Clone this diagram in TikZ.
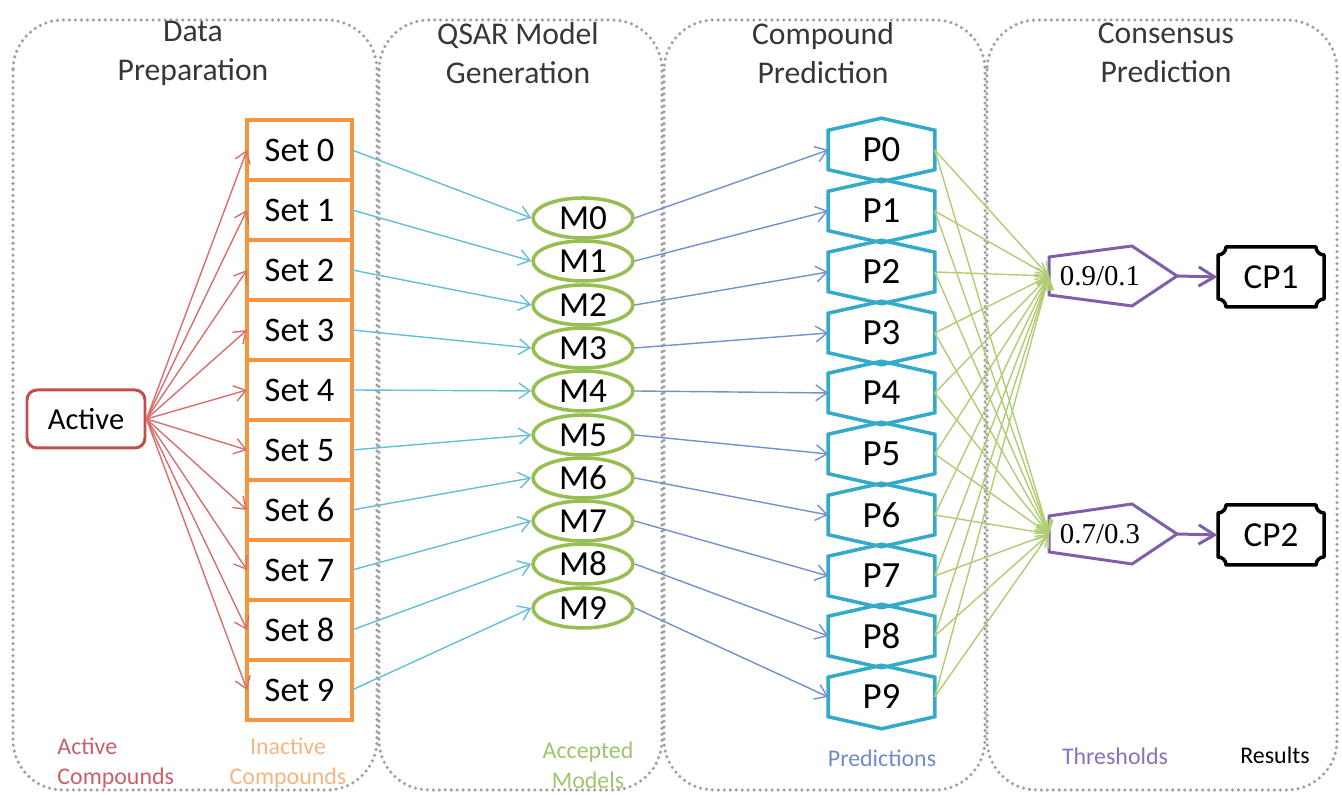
\documentclass[tikz,border=0pt]{standalone}
\usepackage{fontspec}
\setmainfont{Carlito}
\newfontfamily\threshfont{Liberation Serif}
\usepackage{tikz}
\usetikzlibrary{calc,positioning,shapes,arrows.meta}

\definecolor{panelgray}{RGB}{160,160,160}
\definecolor{headgray}{RGB}{55,55,55}
\definecolor{actred}{RGB}{192,80,77}
\definecolor{actline}{RGB}{214,112,112}
\definecolor{setorange}{RGB}{247,148,60}
\definecolor{setline}{RGB}{100,190,215}
\definecolor{modgreen}{RGB}{150,190,80}
\definecolor{modline}{RGB}{115,145,205}
\definecolor{predcyan}{RGB}{50,170,200}
\definecolor{predline}{RGB}{175,205,115}
\definecolor{thpurple}{RGB}{128,95,170}
\definecolor{actnote}{RGB}{200,95,105}
\definecolor{setnote}{RGB}{245,180,130}
\definecolor{modnote}{RGB}{160,195,110}
\definecolor{prednote}{RGB}{110,140,200}
\definecolor{thnote}{RGB}{140,110,190}

\tikzstyle{panel}  = [draw=panelgray, line width=1pt, dash pattern=on 0pt off 1.7pt, line cap=round, rounded corners=0.5cm]
\tikzstyle{header} = [align=center, text=headgray, font=\fontsize{9}{11.1}\selectfont]
\tikzstyle{note}   = [align=center, font=\fontsize{6.8}{8.5}\selectfont]
\tikzstyle{active} = [draw=actred, line width=0.85pt, rounded corners=0.1cm, minimum width=1.18cm, minimum height=0.58cm, font=\fontsize{8.7}{10}\selectfont]
\tikzstyle{setbox} = [draw=setorange, line width=1.15pt, minimum width=1.05cm, minimum height=0.6cm, outer sep=0pt, inner sep=0pt, font=\fontsize{9.8}{11}\selectfont]
\tikzstyle{model}  = [ellipse, draw=modgreen, line width=1pt, minimum width=1.0cm, minimum height=0.4cm, inner sep=0pt, font=\fontsize{10}{11}\selectfont]
\tikzstyle{pred}   = [minimum width=1.03cm, minimum height=0.6cm, inner sep=0pt, outer sep=0.5pt, font=\fontsize{10.5}{11}\selectfont]
\tikzstyle{predbox} = [draw=predcyan, line width=1pt, line join=miter]
\tikzstyle{thresh} = [draw=thpurple, line width=0.85pt, line join=miter]
\tikzstyle{result} = [minimum width=1.06cm, minimum height=0.6cm, inner sep=0pt, font=\fontsize{10}{11}\selectfont]
\tikzstyle{plaque} = [line width=1pt, line join=round]
\tikzstyle{arrow}  = [line width=0.4pt, ->, >={Straight Barb[length=3.2pt,width=4.5pt]}]
\tikzstyle{bigarrow} = [line width=0.85pt, ->, >={Straight Barb[length=4.5pt,width=5.5pt]}]

\begin{document}
\begin{tikzpicture}[]
		\useasboundingbox (0,0) rectangle (13.42,7.95);

		% panels
		\draw[panel] (0.13,7.75) rectangle (3.77,0.05);
		\draw[panel] (3.79,7.75) rectangle (6.62,0.05);
		\draw[panel] (6.64,7.75) rectangle (9.85,0.05);
		\draw[panel] (9.87,7.75) rectangle (13.37,0.05);

		\node[header] (h1) at (1.93,7.42) {Data\\Preparation};
		\node[header] (h2) at (5.18,7.42) {QSAR Model\\Generation};
		\node[header] (h3) at (8.23,7.42) {Compound\\Prediction};
		\node[header] (h4) at (11.66,7.42) {Consensus\\Prediction};

		% data preparation
		\node[active] (act) at (0.86,3.76) {Active};

		\node[setbox] (s0) at (2.995,6.45) {Set 0};
		\node[setbox, below=0pt of s0] (s1) {Set 1};
		\node[setbox, below=0pt of s1] (s2) {Set 2};
		\node[setbox, below=0pt of s2] (s3) {Set 3};
		\node[setbox, below=0pt of s3] (s4) {Set 4};
		\node[setbox, below=0pt of s4] (s5) {Set 5};
		\node[setbox, below=0pt of s5] (s6) {Set 6};
		\node[setbox, below=0pt of s6] (s7) {Set 7};
		\node[setbox, below=0pt of s7] (s8) {Set 8};
		\node[setbox, below=0pt of s8] (s9) {Set 9};

		% models
		\node[model] (m0) at (5.83,5.77) {M0};
		\node[model] (m1) at (5.83,5.34) {M1};
		\node[model] (m2) at (5.83,4.90) {M2};
		\node[model] (m3) at (5.83,4.47) {M3};
		\node[model] (m4) at (5.83,4.04) {M4};
		\node[model] (m5) at (5.83,3.60) {M5};
		\node[model] (m6) at (5.83,3.17) {M6};
		\node[model] (m7) at (5.83,2.74) {M7};
		\node[model] (m8) at (5.83,2.31) {M8};
		\node[model] (m9) at (5.83,1.87) {M9};

		% predictions
		\node[pred] (p0) at (8.815,6.45) {P0};
		\node[pred] (p1) at (8.815,5.84) {P1};
		\node[pred] (p2) at (8.815,5.23) {P2};
		\node[pred] (p3) at (8.815,4.62) {P3};
		\node[pred] (p4) at (8.815,4.02) {P4};
		\node[pred] (p5) at (8.815,3.41) {P5};
		\node[pred] (p6) at (8.815,2.80) {P6};
		\node[pred] (p7) at (8.815,2.19) {P7};
		\node[pred] (p8) at (8.815,1.59) {P8};
		\node[pred] (p9) at (8.815,0.98) {P9};
		\foreach \i in {0,...,9}
			\draw[predbox] (p\i.north) -- ([yshift=-0.12cm]p\i.north east) -- ([yshift=0.12cm]p\i.south east) -- (p\i.south) -- ([yshift=0.12cm]p\i.south west) -- ([yshift=-0.12cm]p\i.north west) -- cycle;

		% thresholds
		\draw[thresh] (10.49,5.38) -- (11.32,5.49) -- (11.77,5.19) -- (11.32,4.89) -- (10.49,5.00) -- cycle;
		\node[font=\threshfont\fontsize{8.2}{10}\selectfont] (t1) at (11.0,5.19) {0.9/0.1};
		\coordinate (t1in) at (10.49,5.19);
		\coordinate (t1out) at (11.77,5.19);

		\draw[thresh] (10.49,2.79) -- (11.32,2.91) -- (11.77,2.61) -- (11.32,2.31) -- (10.49,2.43) -- cycle;
		\node[font=\threshfont\fontsize{8.2}{10}\selectfont] (t2) at (11.0,2.61) {0.7/0.3};
		\coordinate (t2in) at (10.49,2.61);
		\coordinate (t2out) at (11.77,2.61);

		% results
		\node[result] (cp1) at (12.71,5.18) {CP1};
		\draw[plaque] (12.71,5.48) -- (13.16,5.48) arc[start angle=180,end angle=270,radius=0.08] -- (13.24,4.96) arc[start angle=90,end angle=180,radius=0.08] -- (12.26,4.88) arc[start angle=0,end angle=90,radius=0.08] -- (12.18,5.40) arc[start angle=270,end angle=360,radius=0.08] -- cycle;
		\node[result] (cp2) at (12.71,2.60) {CP2};
		\draw[plaque] (12.71,2.90) -- (13.16,2.90) arc[start angle=180,end angle=270,radius=0.08] -- (13.24,2.38) arc[start angle=90,end angle=180,radius=0.08] -- (12.26,2.30) arc[start angle=0,end angle=90,radius=0.08] -- (12.18,2.82) arc[start angle=270,end angle=360,radius=0.08] -- cycle;

		% active -> sets
		\draw[arrow, actline] (act.east) -- (s0.west);
		\draw[arrow, actline] (act.east) -- (s1.west);
		\draw[arrow, actline] (act.east) -- (s2.west);
		\draw[arrow, actline] (act.east) -- (s3.west);
		\draw[arrow, actline] (act.east) -- (s4.west);
		\draw[arrow, actline] (act.east) -- (s5.west);
		\draw[arrow, actline] (act.east) -- (s6.west);
		\draw[arrow, actline] (act.east) -- (s7.west);
		\draw[arrow, actline] (act.east) -- (s8.west);
		\draw[arrow, actline] (act.east) -- (s9.west);

		% sets -> models
		\draw[arrow, setline] (s0.east) -- (m0.west);
		\draw[arrow, setline] (s1.east) -- (m1.west);
		\draw[arrow, setline] (s2.east) -- (m2.west);
		\draw[arrow, setline] (s3.east) -- (m3.west);
		\draw[arrow, setline] (s4.east) -- (m4.west);
		\draw[arrow, setline] (s5.east) -- (m5.west);
		\draw[arrow, setline] (s6.east) -- (m6.west);
		\draw[arrow, setline] (s7.east) -- (m7.west);
		\draw[arrow, setline] (s8.east) -- (m8.west);
		\draw[arrow, setline] (s9.east) -- (m9.west);

		% models -> predictions
		\draw[arrow, modline] (m0.east) -- (p0.west);
		\draw[arrow, modline] (m1.east) -- (p1.west);
		\draw[arrow, modline] (m2.east) -- (p2.west);
		\draw[arrow, modline] (m3.east) -- (p3.west);
		\draw[arrow, modline] (m4.east) -- (p4.west);
		\draw[arrow, modline] (m5.east) -- (p5.west);
		\draw[arrow, modline] (m6.east) -- (p6.west);
		\draw[arrow, modline] (m7.east) -- (p7.west);
		\draw[arrow, modline] (m8.east) -- (p8.west);
		\draw[arrow, modline] (m9.east) -- (p9.west);

		% predictions -> thresholds
		\draw[arrow, predline] (p0.east) -- (t1in);
		\draw[arrow, predline] (p1.east) -- (t1in);
		\draw[arrow, predline] (p2.east) -- (t1in);
		\draw[arrow, predline] (p3.east) -- (t1in);
		\draw[arrow, predline] (p4.east) -- (t1in);
		\draw[arrow, predline] (p5.east) -- (t1in);
		\draw[arrow, predline] (p6.east) -- (t1in);
		\draw[arrow, predline] (p7.east) -- (t1in);
		\draw[arrow, predline] (p8.east) -- (t1in);
		\draw[arrow, predline] (p9.east) -- (t1in);
		\draw[arrow, predline] (p0.east) -- (t2in);
		\draw[arrow, predline] (p1.east) -- (t2in);
		\draw[arrow, predline] (p2.east) -- (t2in);
		\draw[arrow, predline] (p3.east) -- (t2in);
		\draw[arrow, predline] (p4.east) -- (t2in);
		\draw[arrow, predline] (p5.east) -- (t2in);
		\draw[arrow, predline] (p6.east) -- (t2in);
		\draw[arrow, predline] (p7.east) -- (t2in);
		\draw[arrow, predline] (p8.east) -- (t2in);
		\draw[arrow, predline] (p9.east) -- (t2in);

		% thresholds -> results
		\draw[bigarrow, thpurple] (t1out) -- (cp1.west);
		\draw[bigarrow, thpurple] (t2out) -- (cp2.west);

		% legends
		\node[note, text=actnote, align=left, anchor=west] (n1) at (0.45,0.32) {Active\\Compounds};
		\node[note, text=setnote] (n2) at (2.88,0.32) {Inactive\\Compounds};
		\node[note, text=modnote] (n3) at (5.88,0.30) {Accepted\\Models};
		\node[note, text=prednote] (n4) at (8.82,0.37) {Predictions};
		\node[note, text=thnote] (n5) at (11.15,0.39) {Thresholds};
		\node[note] (n6) at (12.75,0.40) {Results};
	\end{tikzpicture}
\end{document}
